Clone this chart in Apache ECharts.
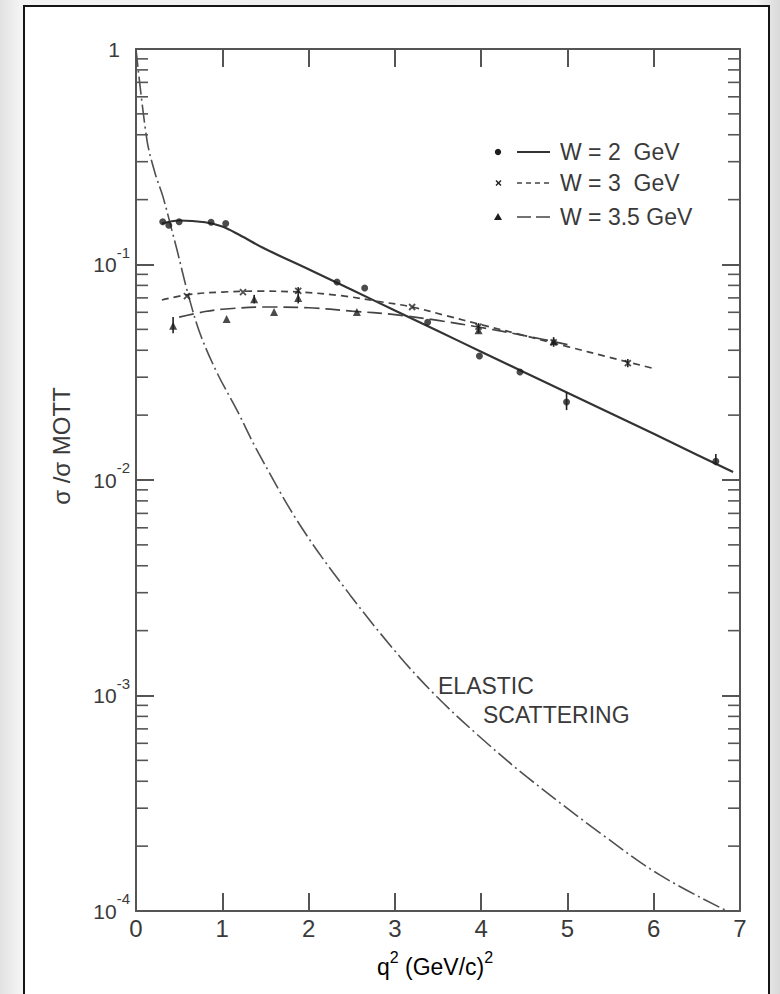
<!DOCTYPE html>
<html><head><meta charset="utf-8">
<script src="https://cdn.jsdelivr.net/npm/echarts@6/dist/echarts.min.js"></script>
<style>
html,body{margin:0;padding:0;width:780px;height:994px;overflow:hidden;}
body{position:relative;background:linear-gradient(90deg,#e2e2e2 0%,#f3f3f3 2.5%,#eeeeee 50%,#f3f3f3 97%,#d9d9d9 100%);}
#page{position:absolute;left:23px;top:5px;width:743px;height:1000px;background:#fff;border:2px solid #151515;border-bottom:none;}
#chart{position:absolute;left:0;top:0;width:780px;height:994px;}
</style></head><body><div id="page"></div><div id="chart"></div>
<script>
// ---- axes ----
const xTickValues = [0,1,2,3,4,5,6,7];
const xTickLabels = ['0','1','2','3','4','5','6','7'];
const yTickValues = [1, 0.1, 0.01, 0.001, 0.0001];
const yTickBase = ['1','10','10','10','10'];
const yTickSup = ['','-1','-2','-3','-4'];
const minorMultipliers = [2,3,4,5,6,7,8,9];
const minorDecades = [0.0001,0.001,0.01,0.1];

// ---- W = 2 GeV (points + solid curve) ----
const w2Q   = [0.31, 0.38, 0.50, 0.87, 1.04, 2.33, 2.65, 3.38, 3.98, 4.45, 4.99, 6.72];
const w2Val = [0.158,0.152,0.158,0.157,0.155,0.083,0.0778,0.054,0.0376,0.0317,0.023,0.0122];
const w2CurveQ   = [0.30, 0.50, 0.80, 1.00, 1.20, 1.50, 2.00, 2.50, 3.00, 3.50, 4.00, 4.50, 5.00, 5.50, 6.00, 6.50, 6.92];
const w2CurveVal = [0.155,0.160,0.157,0.150,0.137,0.118,0.095,0.0763,0.0612,0.0491,0.0394,0.0316,0.0254,0.0204,0.0164,0.0131,0.0109];

// ---- W = 3 GeV (x marks + short dashed curve) ----
const w3Q   = [0.59, 1.24, 1.88, 3.20, 3.97, 4.84, 5.70];
const w3Val = [0.0714,0.0745,0.0755,0.0635,0.0515,0.0435,0.0349];
const w3CurveQ   = [0.30, 0.60, 1.00, 1.40, 1.90, 2.40, 2.80, 3.20, 3.60, 4.00, 4.50, 5.00, 5.50, 6.00];
const w3CurveVal = [0.0684,0.0725,0.0745,0.0752,0.0745,0.0715,0.0675,0.0635,0.0578,0.0526,0.0468,0.0416,0.037,0.0329];

// ---- W = 3.5 GeV (triangles + long dashed curve) ----
const w35Q   = [0.43, 1.05, 1.37, 1.60, 1.88, 2.56, 3.97, 4.84];
const w35Val = [0.052,0.0558,0.069,0.0602,0.070,0.0602,0.0495,0.044];
const w35CurveQ   = [0.50, 0.80, 1.00, 1.50, 2.00, 2.50, 3.00, 3.50, 4.00, 4.50, 5.00];
const w35CurveVal = [0.057,0.0605,0.062,0.0635,0.063,0.0608,0.0585,0.055,0.051,0.0468,0.0425];

// ---- error bars: q, low, high ----
const errQ    = [4.99, 0.43, 1.37, 1.88, 3.97, 4.84, 5.70, 6.72];
const errLow  = [0.0211,0.048,0.066,0.066,0.048,0.0415,0.0334,0.0117];
const errHigh = [0.0256,0.057,0.0723,0.0785,0.0535,0.046,0.0364,0.0132];

// ---- elastic scattering (dash-dot) ----
const elasticQ   = [0, 0.127, 0.22, 0.313, 0.42, 0.475, 0.60, 0.74, 0.94, 1.17, 1.40, 1.90, 2.48, 3.06, 3.49, 3.99, 4.53, 5.38, 6.07, 6.85];
const elasticVal = [1, 0.378, 0.266, 0.206, 0.142, 0.117, 0.0738, 0.0481, 0.0314, 0.0211, 0.0138, 0.00618, 0.00293, 0.00151, 0.000984, 0.00064, 0.000419, 0.00023, 0.000147, 0.0001];

const INK = '#3a3a3a';
const FRAME = '#555';
const FONT = '"Liberation Sans", Arial, sans-serif';
const pairs = (a, b) => a.map((v, i) => [v, b[i]]);
const minorTicks = [];
minorDecades.forEach(d => minorMultipliers.forEach(m => minorTicks.push(d * m)));

const chart = echarts.init(document.getElementById('chart'), null, {renderer: 'svg', width: 780, height: 994});

const frameAxisX = (pos, showLabel) => ({
  type: 'value', min: 0, max: 7, interval: 1, position: pos,
  axisLine: {show: true, onZero: false, lineStyle: {color: FRAME, width: 2}},
  axisTick: {show: true, inside: true, length: 18, lineStyle: {color: FRAME, width: 2}},
  axisLabel: showLabel ? {margin: 5, fontSize: 24, color: INK, fontFamily: FONT,
    formatter: v => xTickLabels[xTickValues.indexOf(v)]} : {show: false},
  splitLine: {show: false}
});
const ySupLabel = v => {
  const i = yTickValues.findIndex(t => Math.abs(Math.log10(t) - Math.log10(v)) < 1e-6);
  if (i < 0) return '';
  if (!yTickSup[i]) return '{one|' + yTickBase[i] + '}';
  return '{b|' + yTickBase[i] + '}{s|' + yTickSup[i] + '}';
};
const frameAxisY = (pos, showLabel) => ({
  type: 'log', logBase: 10, min: 0.0001, max: 1, position: pos,
  axisLine: {show: true, onZero: false, lineStyle: {color: FRAME, width: 2}},
  axisTick: {show: true, inside: true, length: 18, lineStyle: {color: FRAME, width: 2}},
  axisLabel: showLabel ? {margin: 6, formatter: ySupLabel,
    rich: {
      b: {fontSize: 21, lineHeight: 40, color: INK, fontFamily: FONT},
      s: {fontSize: 15, lineHeight: 16, verticalAlign: 'top', color: INK, fontFamily: FONT},
      one: {fontSize: 21, lineHeight: 24, color: INK, fontFamily: FONT, padding: [0, 10, 0, 0]}
    }} : {show: false},
  splitLine: {show: false}, minorTick: {show: false}
});

const legendY = [152, 183, 217];
const legendTexts = ['W = 2  GeV', 'W = 3  GeV', 'W = 3.5 GeV'];
const SMOOTH = 0.35;

const option = {
  animation: false,
  grid: {left: 136, right: 40, top: 49, bottom: 83, show: false},
  xAxis: [frameAxisX('bottom', true), frameAxisX('top', false)],
  yAxis: [frameAxisY('left', true), frameAxisY('right', false)],
  series: [
    {type: 'line', name: 'Elastic', data: pairs(elasticQ, elasticVal), smooth: SMOOTH,
     showSymbol: false, symbol: 'none', lineStyle: {color: '#505050', width: 1.6, type: [18, 4, 2, 4]}, z: 2},
    {type: 'line', name: 'W=2 curve', data: pairs(w2CurveQ, w2CurveVal), smooth: SMOOTH,
     showSymbol: false, symbol: 'none', lineStyle: {color: '#333', width: 2.2}, z: 3},
    {type: 'line', name: 'W=3 curve', data: pairs(w3CurveQ, w3CurveVal), smooth: SMOOTH,
     showSymbol: false, symbol: 'none', lineStyle: {color: '#444', width: 1.7, type: [7, 5]}, z: 3},
    {type: 'line', name: 'W=3.5 curve', data: pairs(w35CurveQ, w35CurveVal), smooth: SMOOTH,
     showSymbol: false, symbol: 'none', lineStyle: {color: '#444', width: 1.7, type: [15, 6]}, z: 3},
    {type: 'custom', name: 'errors', data: errQ.map((q, i) => [q, errLow[i], errHigh[i]]),
     encode: {x: 0, y: [1, 2]}, z: 4,
     renderItem: (params, api) => {
       const a = api.coord([api.value(0), api.value(1)]);
       const b = api.coord([api.value(0), api.value(2)]);
       return {type: 'line', shape: {x1: a[0], y1: a[1], x2: b[0], y2: b[1]}, style: {stroke: '#222', lineWidth: 1.6}};
     }},
    {type: 'scatter', name: 'W = 2 GeV', data: pairs(w2Q, w2Val), symbol: 'circle', symbolSize: 7,
     itemStyle: {color: '#1e1e1e'}, z: 5},
    {type: 'scatter', name: 'W = 3 GeV', data: pairs(w3Q, w3Val), symbol: 'path://M0,0L10,10M10,0L0,10', symbolSize: 6,
     itemStyle: {color: 'none', borderColor: '#222', borderWidth: 1.8}, z: 5},
    {type: 'scatter', name: 'W = 3.5 GeV', data: pairs(w35Q, w35Val), symbol: 'triangle', symbolSize: 8,
     itemStyle: {color: '#1e1e1e'}, z: 5},
    {type: 'custom', name: 'minor ticks', data: minorTicks.map(v => [0, v]), encode: {x: 0, y: 1}, z: 6,
     silent: true, clip: false,
     renderItem: (params, api) => {
       const v = api.value(1);
       const l = api.coord([0, v]);
       const r = api.coord([7, v]);
       return {type: 'group', children: [
         {type: 'line', shape: {x1: l[0], y1: l[1], x2: l[0] + 12, y2: l[1]}, style: {stroke: FRAME, lineWidth: 1.6}},
         {type: 'line', shape: {x1: r[0] - 12, y1: r[1], x2: r[0], y2: r[1]}, style: {stroke: FRAME, lineWidth: 1.6}}
       ]};
     }}
  ],
  graphic: [
    // legend
    {type: 'circle', shape: {cx: 498, cy: legendY[0], r: 3.2}, style: {fill: '#1e1e1e'}},
    {type: 'line', shape: {x1: 517, y1: legendY[0], x2: 550, y2: legendY[0]}, style: {stroke: '#333', lineWidth: 2}},
    {type: 'line', shape: {x1: 496, y1: legendY[1] - 2.5, x2: 501, y2: legendY[1] + 2.5}, style: {stroke: '#222', lineWidth: 1.5}},
    {type: 'line', shape: {x1: 501, y1: legendY[1] - 2.5, x2: 496, y2: legendY[1] + 2.5}, style: {stroke: '#222', lineWidth: 1.5}},
    {type: 'line', shape: {x1: 517, y1: legendY[1], x2: 550, y2: legendY[1]}, style: {stroke: '#444', lineWidth: 1.6, lineDash: [5, 4]}},
    {type: 'polygon', shape: {points: [[498, legendY[2] - 4], [502, legendY[2] + 3], [494, legendY[2] + 3]]}, style: {fill: '#1e1e1e'}},
    {type: 'line', shape: {x1: 517, y1: legendY[2], x2: 550, y2: legendY[2]}, style: {stroke: '#444', lineWidth: 1.6, lineDash: [14, 5]}},
    {type: 'text', x: 560, y: legendY[0], style: {text: legendTexts[0], font: '23px ' + FONT, fill: INK, verticalAlign: 'middle'}},
    {type: 'text', x: 560, y: legendY[1], style: {text: legendTexts[1], font: '23px ' + FONT, fill: INK, verticalAlign: 'middle'}},
    {type: 'text', x: 560, y: legendY[2], style: {text: legendTexts[2], font: '23px ' + FONT, fill: INK, verticalAlign: 'middle'}},
    // curve annotation
    {type: 'text', x: 438, y: 686, style: {text: 'ELASTIC', font: '23px ' + FONT, fill: INK, verticalAlign: 'middle'}},
    {type: 'text', x: 483, y: 715, style: {text: 'SCATTERING', font: '23px ' + FONT, fill: INK, verticalAlign: 'middle'}},
    // axis names
    {type: 'text', x: 61, y: 446, rotation: Math.PI / 2,
     style: {text: 'σ /σ MOTT', font: '24px ' + FONT, fill: INK, align: 'center', verticalAlign: 'middle'}},
    {type: 'text', x: 435, y: 967,
     style: {text: '{t|q}{s|2}{t| (GeV/c)}{s|2}', align: 'center', verticalAlign: 'middle',
       rich: {t: {fontSize: 23, lineHeight: 36, fontFamily: FONT, color: INK},
              s: {fontSize: 16, lineHeight: 16, verticalAlign: 'top', fontFamily: FONT, color: INK}}}}
  ]
};
chart.setOption(option);
</script></body></html>
